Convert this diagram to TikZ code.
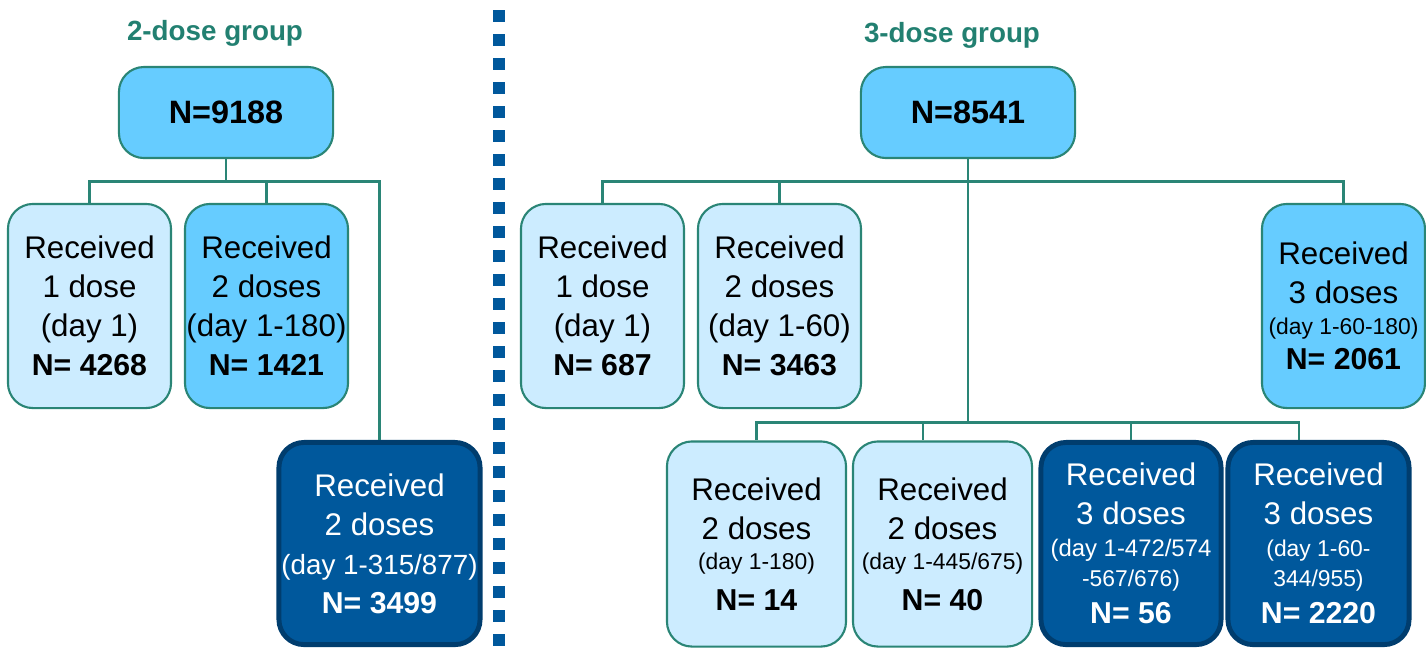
\documentclass[tikz,border=0pt]{standalone}
\usepackage{fontspec}
\setmainfont{Liberation Sans}
\usetikzlibrary{positioning, calc}
\definecolor{cLineDraw}{RGB}{42, 133, 118}
\definecolor{cTitle}{RGB}{34, 128, 113}
\definecolor{cLightFill}{RGB}{204, 236, 255}
\definecolor{cMidFill}{RGB}{102, 204, 255}
\definecolor{cDarkFill}{RGB}{0, 88, 156}
\definecolor{cDarkDraw}{RGB}{0, 61, 110}
\newcommand{\nCount}[1]{{\fontsize{8.6}{11}\selectfont\bfseries N= #1}}
\newcommand{\daySmall}[1]{{\fontsize{6.5}{9}\selectfont #1}}
\newcommand{\dayMid}[1]{{\fontsize{7.9}{10}\selectfont #1}}
\tikzset{
    font=\fontsize{8.9}{11.1}\selectfont,
    % --- base box ---
    baseBox/.style={
        rectangle, rounded corners=0.25cm, align=center, inner sep=0pt
    },
    % --- box kinds ---
    boxRoot/.style={baseBox, draw=cLineDraw, fill=cMidFill, line width=0.6pt,
        minimum width=2.14cm, minimum height=0.91cm,
        font=\fontsize{9.2}{11}\selectfont\bfseries},
    boxLight/.style={baseBox, draw=cLineDraw, fill=cLightFill, line width=0.6pt,
        minimum width=1.63cm, minimum height=2.04cm},
    boxMid/.style={baseBox, draw=cLineDraw, fill=cMidFill, line width=0.6pt,
        minimum width=1.63cm, minimum height=2.04cm},
    boxDark/.style={baseBox, draw=cDarkDraw, fill=cDarkFill, line width=1.4pt,
        text=white, minimum height=2.02cm},
    % --- group title ---
    groupTitle/.style={text=cTitle, font=\fontsize{7.9}{9}\selectfont\bfseries},
    % --- connectors ---
    conn/.style={draw=cLineDraw, line width=0.6pt},
    sepLine/.style={draw=cDarkFill, line width=0.12cm, dash pattern=on 0.12cm off 0.12cm}
}

\begin{document}
\begin{tikzpicture}[x=0.01cm, y=-0.01cm]

    \useasboundingbox (0,0) rectangle (1426,647);

    % =========================================================
    % 2-dose group
    % =========================================================

    \node [groupTitle] (title2) at (215,33) {2-dose group};

    \node [boxRoot] (root2) at (226,112.5) {N=9188};

    \node [boxLight] (b21) at (89.5,306) {
        Received\\ 1 dose\\ (day 1)\\ \nCount{4268}
    };
    \node [boxMid] (b22) at (266.5,306) {
        Received\\ 2 doses\\ (day 1-180)\\ \nCount{1421}
    };
    \node [boxDark, minimum width=2.01cm] (b23) at (379.5,543.5) {
        Received\\ 2 doses\\ \dayMid{(day 1-315/877)}\\ \nCount{3499}
    };

    \coordinate (j2) at (226,181.5);
    \draw [conn] (root2.south) -- (j2);
    \draw [conn] (j2) -| (b21.north);
    \draw [conn] (j2) -| (b22.north);
    \draw [conn] (j2) -| (b23.north);

    % =========================================================
    % separator
    % =========================================================

    \coordinate (sepTop) at (499,10);
    \coordinate (sepBot) at (499,647);
    \draw [sepLine] (sepTop) -- (sepBot);

    % =========================================================
    % 3-dose group
    % =========================================================

    \node [groupTitle] (title3) at (952,35) {3-dose group};

    \node [boxRoot] (root3) at (968,112.5) {N=8541};

    \node [boxLight] (b31) at (602.5,306) {
        Received\\ 1 dose\\ (day 1)\\ \nCount{687}
    };
    \node [boxLight] (b32) at (779.5,306) {
        Received\\ 2 doses\\ (day 1-60)\\ \nCount{3463}
    };
    \node [boxMid] (b33) at (1343.5,306) {
        Received\\ 3 doses\\[-2.5pt] \daySmall{(day 1-60-180)}\\[-1pt] \nCount{2061}
    };

    \node [boxLight, minimum width=1.79cm, minimum height=2.05cm] (b34) at (756.5,544) {
        Received\\ 2 doses\\[-2.5pt] \daySmall{(day 1-180)}\\[0.5pt] \nCount{14}
    };
    \node [boxLight, minimum width=1.79cm, minimum height=2.05cm] (b35) at (942.5,544) {
        Received\\ 2 doses\\[-2.5pt] \daySmall{(day 1-445/675)}\\[0.5pt] \nCount{40}
    };
    \node [boxDark, minimum width=1.80cm] (b36) at (1131,543.5) {
        Received\\ 3 doses\\[-2pt] {\fontsize{6.8}{9}\selectfont (day 1-472/574}\\[-2.5pt] \daySmall{-567/676)}\\[-0.5pt] \nCount{56}
    };
    \node [boxDark, minimum width=1.81cm] (b37) at (1318.5,543.5) {
        Received\\ 3 doses\\[-2pt] \daySmall{(day 1-60-}\\[-2.5pt] \daySmall{344/955)}\\[-0.5pt] \nCount{2220}
    };

    \coordinate (j3) at (968,181.5);
    \coordinate (k3) at (968,422.5);
    \draw [conn] (root3.south) -- (j3);
    \draw [conn] (j3) -| (b31.north);
    \draw [conn] (j3) -| (b32.north);
    \draw [conn] (j3) -| (b33.north);
    \draw [conn] (j3) -- (k3);
    \draw [conn] (k3) -| (b34.north);
    \draw [conn] (k3) -| ([xshift=-5.5]b35.north);
    \draw [conn] (k3) -| (b36.north);
    \draw [conn] (k3) -| ([xshift=-5.5]b37.north);

\end{tikzpicture}
\end{document}
